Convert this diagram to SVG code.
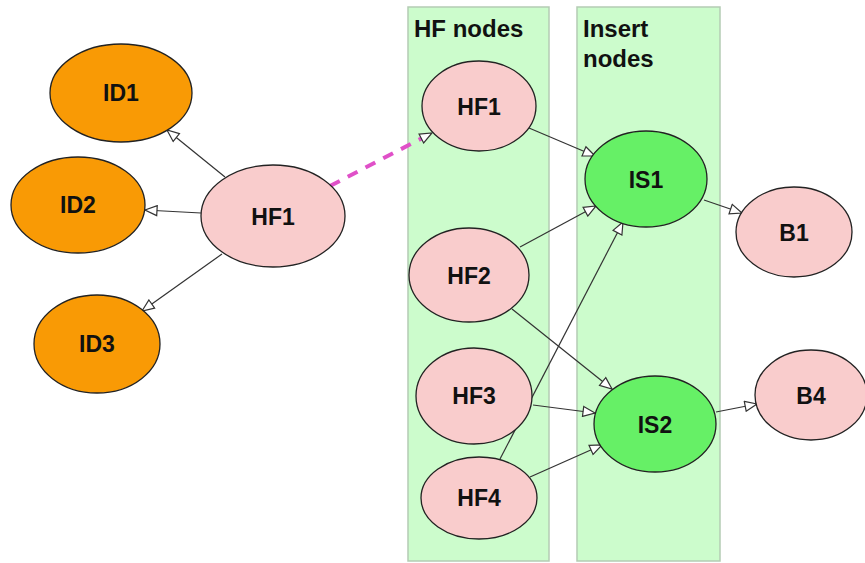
<svg xmlns="http://www.w3.org/2000/svg" width="865" height="563" viewBox="0 0 865 563">
  <style>
    .lane { fill: #ccfccc; stroke: #b4ccb4; stroke-width: 1.5; }
    .lane-label { font-family: "Liberation Sans", Arial, sans-serif; font-weight: bold; font-size: 24px; fill: #111; }
    .node ellipse { stroke: #222; stroke-width: 1.3; }
    .id ellipse { fill: #f99a05; }
    .hf ellipse { fill: #f9cccc; }
    .is ellipse { fill: #66f066; }
    .node text { font-family: "Liberation Sans", Arial, sans-serif; font-weight: bold; font-size: 23px; fill: #111; text-anchor: middle; dominant-baseline: central; }
    .edge { stroke: #333; stroke-width: 1.2; fill: none; marker-end: url(#open); }
    .link { stroke: #e050c8; stroke-width: 4; stroke-dasharray: 11 9; fill: none; marker-end: url(#open); }
  </style>
  <defs>
    <!-- open triangular arrowhead shared by all connectors -->
    <marker id="open" markerUnits="userSpaceOnUse" viewBox="0 0 14 12" markerWidth="14" markerHeight="12" refX="13" refY="6" orient="auto">
      <path d="M1,1 L13,6 L1,11 Z" fill="#fff" stroke="#333" stroke-width="1.2"/>
    </marker>
  </defs>

  <rect width="865" height="563" fill="#fff"/>

  <!-- swimlanes -->
  <g id="lane-hf">
    <rect class="lane" x="408" y="7" width="141" height="554"/>
    <text class="lane-label" x="414" y="37">HF nodes</text>
  </g>
  <g id="lane-insert">
    <rect class="lane" x="577" y="7" width="143" height="554"/>
    <text class="lane-label" x="583" y="37">Insert</text>
    <text class="lane-label" x="583" y="67">nodes</text>
  </g>

  <!-- connectors -->
  <g id="connectors">
    <line class="edge" x1="225" y1="177" x2="167" y2="130"/>
    <line class="edge" x1="201" y1="213" x2="145" y2="210"/>
    <line class="edge" x1="222" y1="254" x2="142" y2="311"/>
    <line class="link" x1="330" y1="186" x2="432" y2="133"/>
    <line class="edge" x1="529" y1="128" x2="595" y2="156"/>
    <line class="edge" x1="520" y1="247" x2="596" y2="206"/>
    <line class="edge" x1="500" y1="459" x2="623" y2="222"/>
    <line class="edge" x1="704" y1="200" x2="742" y2="213"/>
    <line class="edge" x1="512" y1="309" x2="612" y2="389"/>
    <line class="edge" x1="533" y1="405" x2="595" y2="413"/>
    <line class="edge" x1="530" y1="477" x2="602" y2="445"/>
    <line class="edge" x1="716" y1="412" x2="757" y2="404"/>
  </g>

  <!-- nodes -->
  <g id="node-id1" class="node id"><ellipse cx="121" cy="93" rx="71" ry="49"/><text x="121" y="93">ID1</text></g>
  <g id="node-id2" class="node id"><ellipse cx="78" cy="205" rx="67" ry="48"/><text x="78" y="205">ID2</text></g>
  <g id="node-id3" class="node id"><ellipse cx="97" cy="344" rx="63" ry="49"/><text x="97" y="344">ID3</text></g>
  <g id="node-hf1-src" class="node hf"><ellipse cx="273" cy="216" rx="72" ry="51"/><text x="273" y="217">HF1</text></g>

  <g id="node-hf1" class="node hf"><ellipse cx="479" cy="106" rx="57" ry="45"/><text x="479" y="107">HF1</text></g>
  <g id="node-hf2" class="node hf"><ellipse cx="469" cy="275" rx="60" ry="47"/><text x="469" y="276">HF2</text></g>
  <g id="node-hf3" class="node hf"><ellipse cx="474" cy="396" rx="58" ry="48"/><text x="474" y="396">HF3</text></g>
  <g id="node-hf4" class="node hf"><ellipse cx="479" cy="498" rx="58" ry="41"/><text x="479" y="498">HF4</text></g>

  <g id="node-is1" class="node is"><ellipse cx="646" cy="179" rx="61" ry="48"/><text x="646" y="180">IS1</text></g>
  <g id="node-is2" class="node is"><ellipse cx="655" cy="424" rx="61" ry="48"/><text x="655" y="425">IS2</text></g>

  <g id="node-b1" class="node hf"><ellipse cx="794" cy="232" rx="58" ry="45"/><text x="794" y="233">B1</text></g>
  <g id="node-b4" class="node hf"><ellipse cx="811" cy="395" rx="56" ry="45"/><text x="811" y="396">B4</text></g>
</svg>
